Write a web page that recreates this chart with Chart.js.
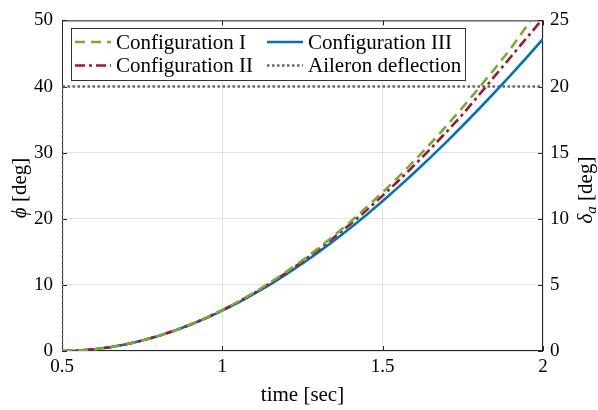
<!DOCTYPE html>
<html>
<head>
<meta charset="utf-8">
<script src="https://cdn.jsdelivr.net/npm/chart.js@4.4.1/dist/chart.umd.min.js"></script>
<style>
  html, body { margin: 0; padding: 0; background: #fff; }
  #wrap { width: 598px; height: 410px; }
</style>
</head>
<body>
<div id="wrap"><canvas id="c"></canvas></div>
<script>
// time samples [sec]
const time = [0.5, 0.55, 0.6, 0.65, 0.7, 0.75, 0.8, 0.85, 0.9, 0.95,
              1.0, 1.05, 1.1, 1.15, 1.2, 1.25, 1.3, 1.35, 1.4, 1.45,
              1.5, 1.55, 1.6, 1.65, 1.7, 1.75, 1.8, 1.85, 1.9, 1.95, 2.0];

// roll angle phi [deg]
const configI   = [0, 0.06, 0.25, 0.57, 1.01, 1.58, 2.26, 3.07, 3.99, 5.04,
                   6.2, 7.48, 8.87, 10.38, 12.0, 13.73, 15.56, 17.51, 19.57, 21.73,
                   24.0, 26.37, 28.85, 31.42, 34.1, 36.88, 39.75, 42.72, 45.79, 49.2, 52.6];
const configII  = [0, 0.06, 0.26, 0.57, 1.01, 1.58, 2.26, 3.06, 3.98, 5.01,
                   6.16, 7.42, 8.79, 10.27, 11.85, 13.54, 15.33, 17.23, 19.22, 21.31,
                   23.5, 25.78, 28.16, 30.62, 33.18, 35.82, 38.7, 41.6, 44.5, 47.4, 50.3];
const configIII = [0, 0.07, 0.26, 0.58, 1.02, 1.58, 2.26, 3.05, 3.96, 4.97,
                   6.1, 7.33, 8.66, 10.09, 11.62, 13.24, 14.95, 16.76, 18.65, 20.62,
                   22.68, 24.82, 27.03, 29.32, 31.67, 34.1, 36.6, 39.15, 41.77, 44.45, 47.2];

// aileron deflection delta_a [deg] (right axis)
const aileronTime = [0.5, 0.5, 2.0];
const aileronDeg  = [0, 20, 20];

const xTicks = [0.5, 1, 1.5, 2];

const serif = "'Liberation Serif', 'DejaVu Serif', serif";
const ink = '#262626';

const pts = (xs, ys) => xs.map((x, i) => ({ x: x, y: ys[i] }));

const series = [
  { label: 'Configuration I',    data: pts(time, configI),   color: '#77AC30', dash: [10, 6],       width: 2.6, axis: 'y' },
  { label: 'Configuration II',   data: pts(time, configII),  color: '#A2142F', dash: [10, 4, 3, 4], width: 2.6, axis: 'y' },
  { label: 'Configuration III',  data: pts(time, configIII), color: '#0072BD', dash: [],            width: 2.6, axis: 'y' },
  { label: 'Aileron deflection', data: pts(aileronTime, aileronDeg), color: '#666666', dash: [2.5, 2.5], width: 2.6, axis: 'y2' }
];

// box and inward ticks under the lines, legend and titles on top
const framePlugin = {
  id: 'frame',
  beforeDatasetsDraw(chart) {
    const ctx = chart.ctx;
    const a = chart.chartArea;
    const sx = chart.scales.x, sy = chart.scales.y, sy2 = chart.scales.y2;
    ctx.save();
    ctx.strokeStyle = ink;
    ctx.lineWidth = 1;
    ctx.strokeRect(a.left + 0.5, a.top + 0.5, a.right - a.left - 1, a.bottom - a.top - 1);
    ctx.beginPath();
    xTicks.forEach(v => {
      const px = Math.round(sx.getPixelForValue(v)) + 0.5;
      ctx.moveTo(px, a.bottom); ctx.lineTo(px, a.bottom - 5);
      ctx.moveTo(px, a.top); ctx.lineTo(px, a.top + 5);
    });
    sy.ticks.forEach(t => {
      const py = Math.round(sy.getPixelForValue(t.value)) + 0.5;
      ctx.moveTo(a.left, py); ctx.lineTo(a.left + 5, py);
    });
    sy2.ticks.forEach(t => {
      const py = Math.round(sy2.getPixelForValue(t.value)) + 0.5;
      ctx.moveTo(a.right, py); ctx.lineTo(a.right - 5, py);
    });
    ctx.stroke();
    ctx.restore();
  },
  afterDatasetsDraw(chart) {
    const ctx = chart.ctx;
    const a = chart.chartArea;
    ctx.save();

    // legend
    const bx = 71, by = 28, bw = 394, bh = 52;
    ctx.fillStyle = '#fff';
    ctx.fillRect(bx, by, bw, bh);
    ctx.strokeStyle = '#333';
    ctx.lineWidth = 1;
    ctx.strokeRect(bx + 0.5, by + 0.5, bw, bh);
    const slots = [
      { s: series[0], x: 75,  y: 42 },
      { s: series[1], x: 75,  y: 65.5 },
      { s: series[2], x: 267, y: 42 },
      { s: series[3], x: 267, y: 65.5 }
    ];
    ctx.font = '21px ' + serif;
    ctx.textBaseline = 'middle';
    slots.forEach(o => {
      ctx.beginPath();
      ctx.strokeStyle = o.s.color;
      ctx.lineWidth = o.s.width;
      ctx.setLineDash(o.s.dash);
      ctx.moveTo(o.x, o.y); ctx.lineTo(o.x + 36, o.y);
      ctx.stroke();
      ctx.setLineDash([]);
      ctx.fillStyle = '#000';
      ctx.fillText(o.s.label, o.x + 41, o.y + 1);
    });

    // axis titles
    ctx.fillStyle = '#000';
    ctx.textBaseline = 'alphabetic';
    ctx.textAlign = 'center';
    ctx.font = '21px ' + serif;
    ctx.fillText('time [sec]', (a.left + a.right) / 2, 401);

    const drawRot = (x, y, parts) => {
      ctx.save();
      ctx.translate(x, y);
      ctx.rotate(-Math.PI / 2);
      ctx.textAlign = 'left';
      let w = 0;
      parts.forEach(p => { ctx.font = p.f; w += ctx.measureText(p.t).width; });
      let cx = -w / 2;
      parts.forEach(p => {
        ctx.font = p.f;
        ctx.fillText(p.t, cx, p.dy || 0);
        cx += ctx.measureText(p.t).width;
      });
      ctx.restore();
    };
    drawRot(26, 188, [
      { t: '\u03D5', f: 'italic 21px ' + serif },
      { t: ' [deg]', f: '21px ' + serif }
    ]);
    drawRot(592, 190, [
      { t: '\u03B4', f: 'italic 21px ' + serif },
      { t: 'a', f: 'italic 15px ' + serif, dy: 4 },
      { t: ' [deg]', f: '21px ' + serif }
    ]);
    ctx.restore();
  }
};

const tickFont = { family: serif, size: 19 };

new Chart(document.getElementById('c'), {
  type: 'line',
  data: {
    datasets: series.map(s => ({
      label: s.label,
      data: s.data,
      yAxisID: s.axis,
      borderColor: s.color,
      borderWidth: s.width,
      borderDash: s.dash,
      pointRadius: 0,
      fill: false,
      tension: 0
    }))
  },
  options: {
    responsive: true,
    maintainAspectRatio: false,
    animation: false,
    layout: { padding: { top: 17, left: 0, right: 0, bottom: 0 } },
    plugins: { legend: { display: false }, tooltip: { enabled: false } },
    scales: {
      x: {
        type: 'linear', min: 0.5, max: 2,
        afterBuildTicks: s => { s.ticks = xTicks.map(v => ({ value: v })); },
        afterFit: s => { s.height = 59; },
        ticks: { color: '#000', font: tickFont, padding: 5, maxRotation: 0, callback: v => String(v) },
        grid: { color: '#e3e3e3', drawTicks: false },
        border: { display: false }
      },
      y: {
        position: 'left', min: 0, max: 50,
        afterFit: s => { s.width = 62; },
        ticks: { stepSize: 10, color: '#000', font: tickFont, padding: 9 },
        grid: { color: '#e3e3e3', drawTicks: false },
        border: { display: false }
      },
      y2: {
        position: 'right', min: 0, max: 25,
        afterFit: s => { s.width = 55; },
        ticks: { stepSize: 5, color: '#000', font: tickFont, padding: 7 },
        grid: { display: false, drawTicks: false },
        border: { display: false }
      }
    }
  },
  plugins: [framePlugin]
});
</script>
</body>
</html>
